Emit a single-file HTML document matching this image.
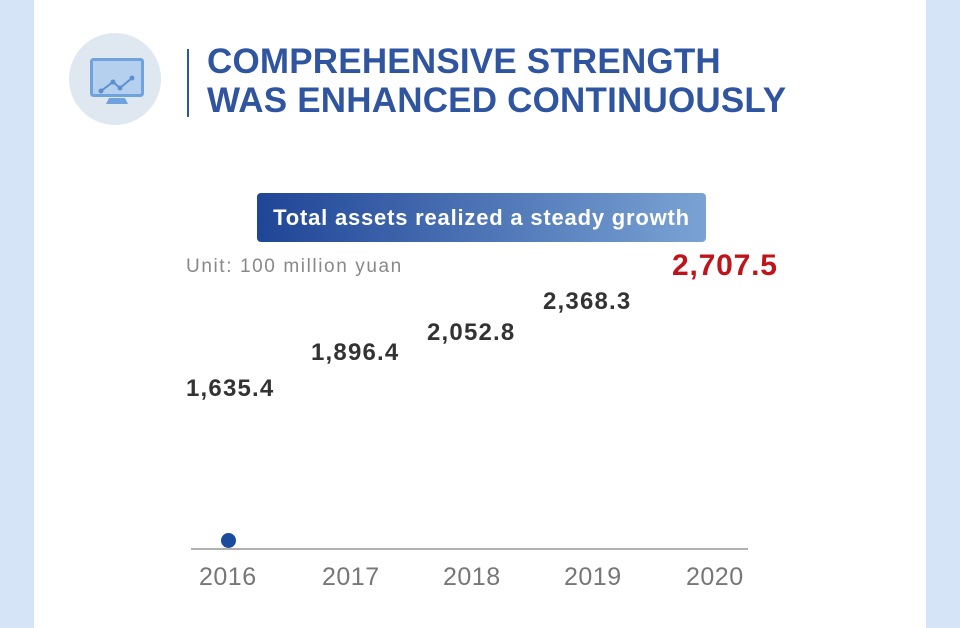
<!DOCTYPE html>
<html><head><meta charset="utf-8"><style>
body{margin:0;width:960px;height:628px;background:#d6e4f7;position:relative;overflow:hidden;font-family:"Liberation Sans","Noto Sans CJK SC",sans-serif}
.panel{position:absolute;left:34px;top:0;width:892px;height:628px;background:#fff}
.a{position:absolute;white-space:nowrap}
.v{font-weight:bold;font-size:24px;color:#333;letter-spacing:1.2px}
.y{font-size:25px;color:#777;letter-spacing:0.5px}
</style></head><body>
<div class="panel"></div>
<div class="a" style="left:69px;top:33px;width:92px;height:92px;border-radius:50%;background:#dfe7f1"></div>
<svg class="a" style="left:88px;top:58px" width="60" height="50">
<rect x="3.5" y="1.5" width="51" height="36" rx="2" fill="#b5d0ef" stroke="#6fa3de" stroke-width="3"/>
<polyline points="13,33 25,24 32,30 44,20" fill="none" stroke="#5b8fd0" stroke-width="2"/>
<circle cx="13" cy="33" r="2.5" fill="#5b8fd0"/><circle cx="25" cy="24" r="2.5" fill="#5b8fd0"/><circle cx="32" cy="30" r="2.5" fill="#5b8fd0"/><circle cx="44" cy="20" r="2.5" fill="#5b8fd0"/>
<path d="M21 40 H37 L40 46 H18 Z" fill="#6fa3de"/>
</svg>
<div class="a" style="left:187px;top:49px;width:2px;height:68px;background:#2f55a0"></div>
<div class="a" style="left:207px;top:42px;font-size:35px;font-weight:bold;color:#2f55a0;line-height:39px;letter-spacing:0.2px">COMPREHENSIVE STRENGTH<br>WAS ENHANCED CONTINUOUSLY</div>
<div class="a" style="left:257px;top:193px;width:449px;height:49px;border-radius:4px;background:linear-gradient(90deg,#1f4596,#7aa3d4);color:#fff;font-weight:bold;font-size:22px;line-height:49px;text-align:center;letter-spacing:0.8px">Total assets realized a steady growth</div>
<div class="a" style="left:186px;top:256px;font-size:19px;color:#888;letter-spacing:1.6px">Unit: 100 million yuan</div>
<div class="a v" style="left:186px;top:375px">1,635.4</div>
<div class="a v" style="left:311px;top:339px">1,896.4</div>
<div class="a v" style="left:427px;top:319px">2,052.8</div>
<div class="a v" style="left:543px;top:288px">2,368.3</div>
<div class="a" style="left:672px;top:249px;font-weight:bold;font-size:30px;color:#c0141b;letter-spacing:0.8px">2,707.5</div>
<div class="a" style="left:221px;top:533px;width:15px;height:15px;border-radius:50%;background:#1c4a9c"></div>
<div class="a" style="left:191px;top:548px;width:557px;height:2px;background:#b0b0b0"></div>
<div class="a y" style="left:199px;top:563px">2016</div>
<div class="a y" style="left:322px;top:563px">2017</div>
<div class="a y" style="left:443px;top:563px">2018</div>
<div class="a y" style="left:564px;top:563px">2019</div>
<div class="a y" style="left:686px;top:563px">2020</div>
</body></html>
